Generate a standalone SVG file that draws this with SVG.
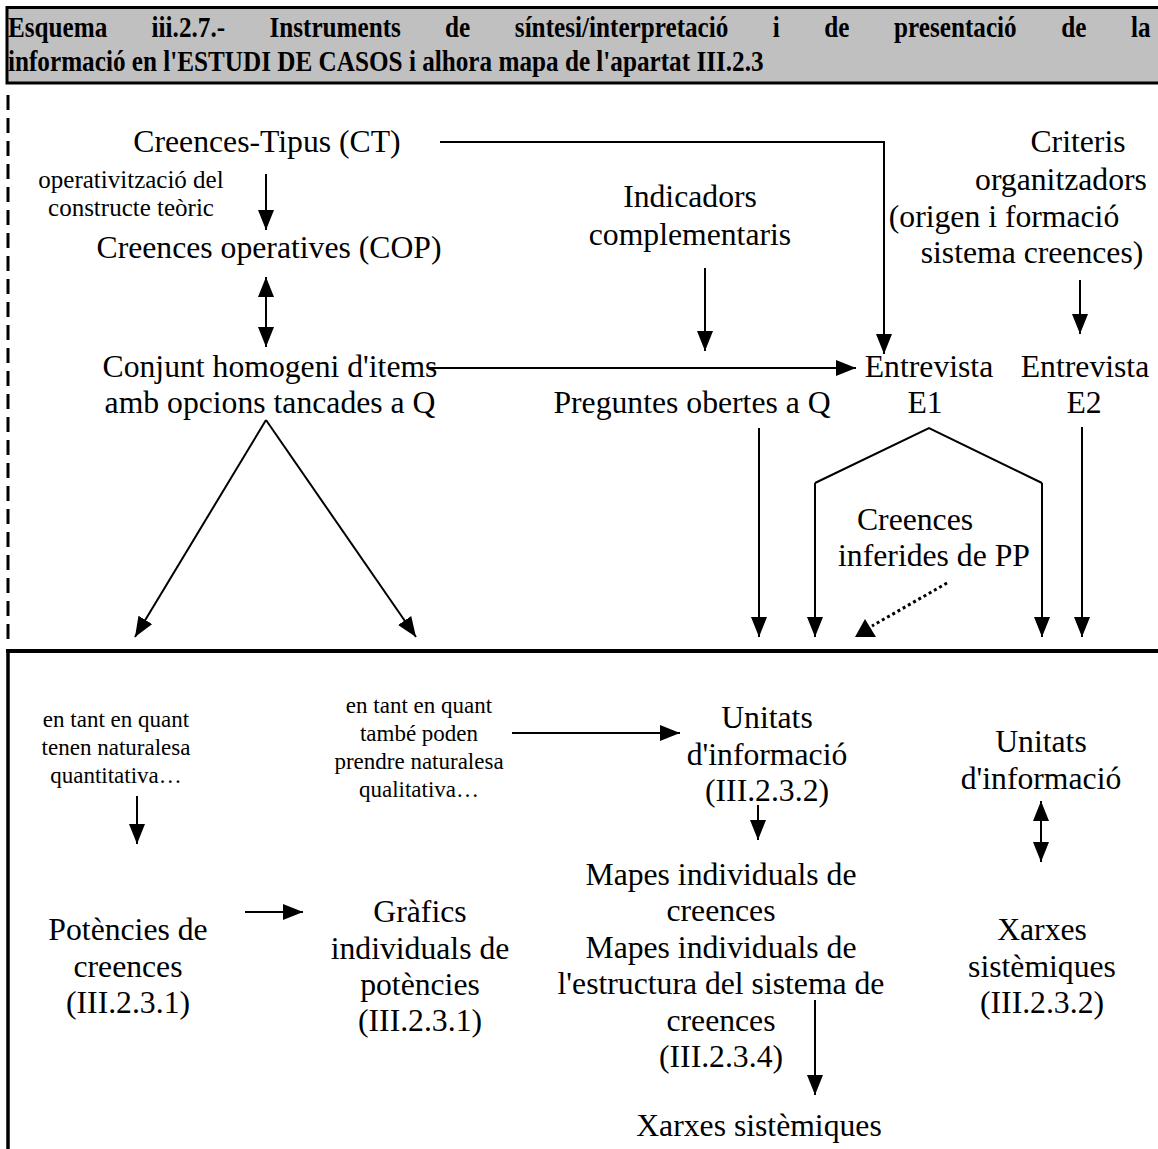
<svg xmlns="http://www.w3.org/2000/svg" width="1158" height="1149" viewBox="0 0 1158 1149">
  <defs>
    <marker id="arrow" viewBox="0 0 20 16" refX="20" refY="8" markerWidth="20" markerHeight="16" markerUnits="userSpaceOnUse" orient="auto-start-reverse">
      <path d="M0,0 L20,8 L0,16 Z" fill="#000"/>
    </marker>
  </defs>
  <style>
    text { font-family: "Liberation Serif", "Times New Roman", serif; fill: #000; }
    .title { font-weight: bold; font-size: 30px; }
    .t { font-size: 31.7px; text-anchor: middle; }
    .s { font-size: 23px; text-anchor: middle; }
    .conn { stroke: #000; stroke-width: 2; fill: none; }
    .arr { marker-end: url(#arrow); }
    .both { marker-start: url(#arrow); marker-end: url(#arrow); }
  </style>
  <rect width="1158" height="1149" fill="#fff"/>

  <!-- title banner (condensed bold serif, first line justified) -->
  <g id="title">
    <rect x="7" y="7.5" width="1160" height="75.5" fill="#c0c0c0" stroke="#000" stroke-width="3"/>
    <text class="title" transform="scale(0.84,1)" y="37"><tspan x="9.5">Esquema</tspan><tspan x="180.5">iii.2.7.-</tspan><tspan x="320.7">Instruments</tspan><tspan x="529.9">de</tspan><tspan x="612.9">síntesi/interpretació</tspan><tspan x="920">i</tspan><tspan x="981.3">de</tspan><tspan x="1064.3">presentació</tspan><tspan x="1263.5">de</tspan><tspan x="1346.4">la</tspan></text>
    <text class="title" transform="scale(0.84,1)" x="9.5" y="71">informació en l'ESTUDI DE CASOS i alhora mapa de l'apartat III.2.3</text>
  </g>

  <!-- frames: dashed upper margin, solid lower section -->
  <g id="frames">
    <line x1="8" y1="95" x2="8" y2="645" stroke="#000" stroke-width="3" stroke-dasharray="15 8"/>
    <line x1="6" y1="651" x2="1158" y2="651" stroke="#000" stroke-width="4"/>
    <line x1="8" y1="651" x2="8" y2="1149" stroke="#000" stroke-width="3.5"/>
  </g>

  <!-- upper section nodes -->
  <g id="ct"><text class="t" x="267" y="152">Creences-Tipus (CT)</text></g>
  <g id="operativitzacio">
    <text class="s" x="131" y="188" style="font-size:25px">operativització del</text>
    <text class="s" x="131" y="216" style="font-size:25px">constructe teòric</text>
  </g>
  <g id="cop"><text class="t" x="269" y="258">Creences operatives (COP)</text></g>
  <g id="conjunt">
    <text class="t" x="270" y="377">Conjunt homogeni d'items</text>
    <text class="t" x="270" y="413">amb opcions tancades a Q</text>
  </g>
  <g id="indicadors">
    <text class="t" x="690" y="207">Indicadors</text>
    <text class="t" x="690" y="245">complementaris</text>
  </g>
  <g id="preguntes"><text class="t" x="692" y="413">Preguntes obertes a Q</text></g>
  <g id="criteris">
    <text class="t" x="1078" y="152">Criteris</text>
    <text class="t" x="1061" y="190">organitzadors</text>
    <text class="t" x="1004" y="227">(origen i formació</text>
    <text class="t" x="1032" y="263">sistema creences)</text>
  </g>
  <g id="e1">
    <text class="t" x="929" y="377">Entrevista</text>
    <text class="t" x="925" y="413">E1</text>
  </g>
  <g id="e2">
    <text class="t" x="1085" y="377">Entrevista</text>
    <text class="t" x="1084" y="413">E2</text>
  </g>
  <g id="inferides">
    <text class="t" x="915" y="530">Creences</text>
    <text class="t" x="934" y="566">inferides de PP</text>
  </g>

  <!-- lower section nodes -->
  <g id="quantitativa">
    <text class="s" x="116" y="727">en tant en quant</text>
    <text class="s" x="116" y="755">tenen naturalesa</text>
    <text class="s" x="116" y="783">quantitativa…</text>
  </g>
  <g id="qualitativa">
    <text class="s" x="419" y="713">en tant en quant</text>
    <text class="s" x="419" y="741">també poden</text>
    <text class="s" x="419" y="769">prendre naturalesa</text>
    <text class="s" x="419" y="797">qualitativa…</text>
  </g>
  <g id="potencies">
    <text class="t" x="128" y="940">Potències de</text>
    <text class="t" x="128" y="977">creences</text>
    <text class="t" x="128" y="1013">(III.2.3.1)</text>
  </g>
  <g id="grafics">
    <text class="t" x="420" y="922">Gràfics</text>
    <text class="t" x="420" y="959">individuals de</text>
    <text class="t" x="420" y="995">potències</text>
    <text class="t" x="420" y="1031">(III.2.3.1)</text>
  </g>
  <g id="unitats1">
    <text class="t" x="767" y="728">Unitats</text>
    <text class="t" x="767" y="765">d'informació</text>
    <text class="t" x="767" y="801">(III.2.3.2)</text>
  </g>
  <g id="mapes">
    <text class="t" x="721" y="885">Mapes individuals de</text>
    <text class="t" x="721" y="921">creences</text>
    <text class="t" x="721" y="958">Mapes individuals de</text>
    <text class="t" x="721" y="994">l'estructura del sistema de</text>
    <text class="t" x="721" y="1031">creences</text>
    <text class="t" x="721" y="1067">(III.2.3.4)</text>
  </g>
  <g id="xarxes1"><text class="t" x="759" y="1136">Xarxes sistèmiques</text></g>
  <g id="unitats2">
    <text class="t" x="1041" y="752">Unitats</text>
    <text class="t" x="1041" y="789">d'informació</text>
  </g>
  <g id="xarxes2">
    <text class="t" x="1042" y="940">Xarxes</text>
    <text class="t" x="1042" y="977">sistèmiques</text>
    <text class="t" x="1042" y="1013">(III.2.3.2)</text>
  </g>

  <!-- connectors -->
  <g id="connectors">
    <polyline class="conn arr" points="440,142 884,142 884,354"/>
    <line class="conn arr" x1="266" y1="174" x2="266" y2="230"/>
    <line class="conn both" x1="266" y1="277" x2="266" y2="347"/>
    <line class="conn arr" x1="428" y1="368" x2="856" y2="368"/>
    <line class="conn arr" x1="705" y1="268" x2="705" y2="351"/>
    <line class="conn arr" x1="1080" y1="280" x2="1080" y2="334"/>
    <line class="conn arr" x1="266" y1="420" x2="135" y2="637"/>
    <line class="conn arr" x1="266" y1="420" x2="416" y2="637"/>
    <line class="conn arr" x1="759" y1="428" x2="759" y2="637"/>
    <polyline class="conn" points="815,483 929,428 1042,483" stroke-width="3"/>
    <line class="conn arr" x1="815" y1="483" x2="815" y2="637"/>
    <line class="conn arr" x1="1042" y1="483" x2="1042" y2="637"/>
    <line class="conn arr" x1="1082" y1="427" x2="1082" y2="637"/>
    <line x1="947" y1="583" x2="872" y2="626" stroke="#000" stroke-width="3" stroke-dasharray="3 3"/>
    <polygon points="865,619 855,637 876,637" fill="#000"/>
    <line class="conn arr" x1="137" y1="796" x2="137" y2="844"/>
    <line class="conn arr" x1="245" y1="912" x2="303" y2="912"/>
    <line class="conn arr" x1="512" y1="733" x2="680" y2="733"/>
    <line class="conn arr" x1="758" y1="805" x2="758" y2="840"/>
    <line class="conn both" x1="1041" y1="801" x2="1041" y2="862"/>
    <line class="conn arr" x1="815" y1="1000" x2="815" y2="1095"/>
  </g>
</svg>
